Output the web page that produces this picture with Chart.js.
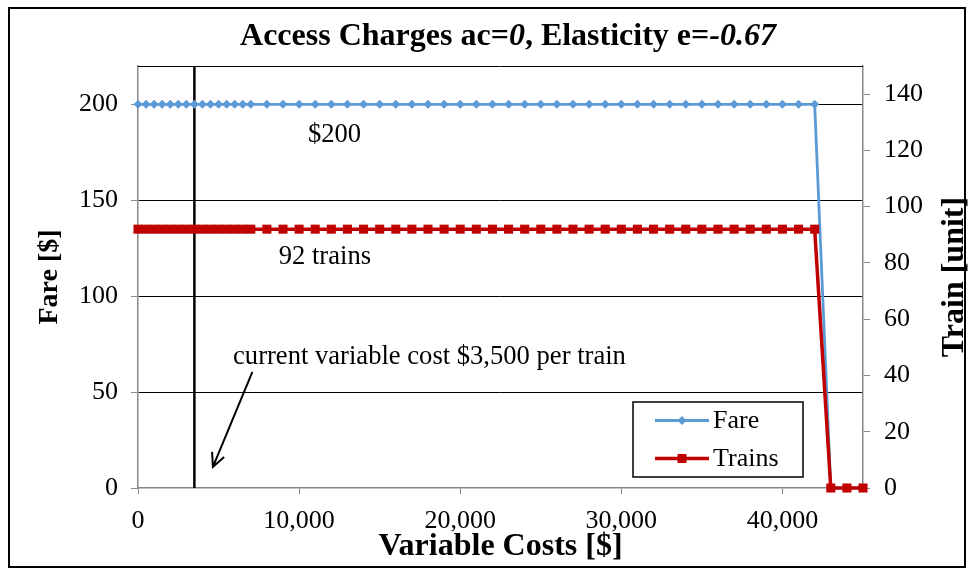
<!DOCTYPE html>
<html lang="en">
<head>
    <meta charset="UTF-8">
    <title>Access Charges ac=0, Elasticity e=-0.67</title>
    <script src="https://cdn.jsdelivr.net/npm/chart.js"></script>
    <style>
        html, body { margin: 0; padding: 0; background: #fff; }
        .chart-wrapper { width: 973px; height: 568px; }
    </style>
</head>
<body>
    <div class="chart-wrapper">
        <canvas id="fareChart" width="973" height="568"></canvas>
    </div>

    <script>
        // variable cost per train [$]
        const variableCosts = [
            0, 500, 1000, 1500, 2000, 2500, 3000, 3500, 4000, 4500, 5000, 5500, 6000, 6500, 7000,
            8000, 9000, 10000, 11000, 12000, 13000, 14000, 15000, 16000, 17000, 18000, 19000, 20000,
            21000, 22000, 23000, 24000, 25000, 26000, 27000, 28000, 29000, 30000, 31000, 32000,
            33000, 34000, 35000, 36000, 37000, 38000, 39000, 40000, 41000, 42000,
            43000, 44000, 45000
        ];

        // fare [$]
        const fareValues = [
            200, 200, 200, 200, 200, 200, 200, 200, 200, 200, 200, 200, 200, 200, 200,
            200, 200, 200, 200, 200, 200, 200, 200, 200, 200, 200, 200, 200,
            200, 200, 200, 200, 200, 200, 200, 200, 200, 200, 200, 200,
            200, 200, 200, 200, 200, 200, 200, 200, 200, 200,
            0, 0, 0
        ];

        // trains [unit]
        const trainValues = [
            92, 92, 92, 92, 92, 92, 92, 92, 92, 92, 92, 92, 92, 92, 92,
            92, 92, 92, 92, 92, 92, 92, 92, 92, 92, 92, 92, 92,
            92, 92, 92, 92, 92, 92, 92, 92, 92, 92, 92, 92,
            92, 92, 92, 92, 92, 92, 92, 92, 92, 92,
            0, 0, 0
        ];

        // axis ticks
        const xTicks = [0, 10000, 20000, 30000, 40000];
        const fareTicks = [0, 50, 100, 150, 200];
        const trainTicks = [0, 20, 40, 60, 80, 100, 120, 140];

        const currentCost = 3500;

        // text notes, placed in data units (x cost, y fare)
        const notes = [
            { text: '$200', x: 12200, y: 184, align: 'center' },
            { text: '92 trains', x: 11600, y: 120.5, align: 'center' },
            { text: 'current variable cost $3,500 per train', x: 5900, y: 68.5, align: 'left' }
        ];
        const arrowFrom = { x: 7100, y: 60.5 };
        const arrowTo = { x: 4650, y: 11 };

        const serif = "'Liberation Serif', 'Times New Roman', serif";
        Chart.defaults.font.family = serif;
        Chart.defaults.color = '#000';

        const toPoints = values => variableCosts.map((x, i) => ({ x: x, y: values[i] }));
        const fixedTicks = list => scale => { scale.ticks = list.map(v => ({ value: v })); };

        const decorations = {
            id: 'decorations',
            beforeDraw(chart) {
                const c = chart.ctx;
                c.save();
                c.fillStyle = '#fff';
                c.fillRect(0, 0, chart.width, chart.height);
                c.strokeStyle = '#000';
                c.lineWidth = 2;
                c.strokeRect(9, 8, 956, 559);
                c.restore();
            },
            beforeDatasetsDraw(chart) {
                const c = chart.ctx;
                const area = chart.chartArea;
                const xs = chart.scales.x;
                c.save();
                // plot top edge
                c.strokeStyle = '#000';
                c.lineWidth = 1;
                c.beginPath();
                c.moveTo(area.left, area.top + 0.5);
                c.lineTo(area.right, area.top + 0.5);
                c.stroke();
                // current variable cost marker
                const cx = xs.getPixelForValue(currentCost);
                c.lineWidth = 2.5;
                c.beginPath();
                c.moveTo(cx, area.top);
                c.lineTo(cx, area.bottom);
                c.stroke();
                c.restore();
            },
            afterDraw(chart) {
                const c = chart.ctx;
                const xs = chart.scales.x;
                const ys = chart.scales.y;
                const area = chart.chartArea;
                c.save();
                c.fillStyle = '#000';

                // title with italic values
                const parts = [
                    { t: 'Access Charges ac=', f: 'bold 32px ' + serif },
                    { t: '0', f: 'italic bold 32px ' + serif },
                    { t: ', Elasticity e=', f: 'bold 32px ' + serif },
                    { t: '-0.67', f: 'italic bold 32px ' + serif }
                ];
                let total = 0;
                parts.forEach(p => { c.font = p.f; p.w = c.measureText(p.t).width; total += p.w; });
                let tx = 508 - total / 2;
                c.textBaseline = 'middle';
                c.textAlign = 'left';
                parts.forEach(p => { c.font = p.f; c.fillText(p.t, tx, 37); tx += p.w; });

                // right axis title, reading upwards
                c.font = 'bold 32px ' + serif;
                c.textAlign = 'center';
                c.translate(955, (area.top + area.bottom) / 2);
                c.rotate(-Math.PI / 2);
                c.fillText('Train [unit]', 0, 0);
                c.setTransform(1, 0, 0, 1, 0, 0);

                // notes
                c.font = '26.6px ' + serif;
                notes.forEach(n => {
                    c.textAlign = n.align;
                    c.fillText(n.text, xs.getPixelForValue(n.x), ys.getPixelForValue(n.y));
                });

                // arrow
                const x1 = xs.getPixelForValue(arrowFrom.x), y1 = ys.getPixelForValue(arrowFrom.y);
                const x2 = xs.getPixelForValue(arrowTo.x), y2 = ys.getPixelForValue(arrowTo.y);
                const ang = Math.atan2(y2 - y1, x2 - x1);
                c.strokeStyle = '#000';
                c.lineWidth = 2;
                c.beginPath();
                c.moveTo(x1, y1);
                c.lineTo(x2, y2);
                c.moveTo(x2 - 15 * Math.cos(ang - 0.45), y2 - 15 * Math.sin(ang - 0.45));
                c.lineTo(x2, y2);
                c.lineTo(x2 - 15 * Math.cos(ang + 0.45), y2 - 15 * Math.sin(ang + 0.45));
                c.stroke();

                // legend box
                const lx = 633, ly = 402, lw = 170, lh = 75;
                c.fillStyle = '#fff';
                c.fillRect(lx, ly, lw, lh);
                c.strokeStyle = '#000';
                c.lineWidth = 1.5;
                c.strokeRect(lx, ly, lw, lh);
                const rows = [chart.data.datasets[0], chart.data.datasets[1]];
                rows.forEach((ds, i) => {
                    const yy = ly + 18.5 + i * 38;
                    c.strokeStyle = ds.borderColor;
                    c.lineWidth = ds.borderWidth;
                    c.beginPath();
                    c.moveTo(lx + 22, yy);
                    c.lineTo(lx + 76, yy);
                    c.stroke();
                    c.fillStyle = ds.borderColor;
                    c.beginPath();
                    if (ds.pointStyle === 'rect') {
                        c.rect(lx + 49 - 4.5, yy - 4.5, 9, 9);
                    } else {
                        c.moveTo(lx + 49, yy - 4.5);
                        c.lineTo(lx + 53.5, yy);
                        c.lineTo(lx + 49, yy + 4.5);
                        c.lineTo(lx + 44.5, yy);
                        c.closePath();
                    }
                    c.fill();
                    c.fillStyle = '#000';
                    c.font = '26px ' + serif;
                    c.textAlign = 'left';
                    c.fillText(ds.label, lx + 80, yy + 1);
                });
                c.restore();
            }
        };

        const ctx = document.getElementById('fareChart').getContext('2d');
        new Chart(ctx, {
            type: 'line',
            data: {
                datasets: [
                    {
                        label: 'Fare',
                        data: toPoints(fareValues),
                        yAxisID: 'y',
                        borderColor: '#5B9BD5',
                        backgroundColor: '#5B9BD5',
                        borderWidth: 2.8,
                        pointStyle: 'rectRot',
                        pointRadius: 4.5,
                        pointBorderWidth: 0,
                        tension: 0,
                        clip: false,
                        order: 1
                    },
                    {
                        label: 'Trains',
                        data: toPoints(trainValues),
                        yAxisID: 'y2',
                        borderColor: '#C00000',
                        backgroundColor: '#C00000',
                        borderWidth: 3.5,
                        pointStyle: 'rect',
                        pointRadius: 6.4,
                        pointBorderWidth: 0,
                        tension: 0,
                        clip: false,
                        order: 0
                    }
                ]
            },
            options: {
                responsive: false,
                animation: false,
                devicePixelRatio: 1,
                layout: { padding: { top: 66, left: 0, right: 0, bottom: 0 } },
                plugins: {
                    legend: { display: false },
                    tooltip: { enabled: false }
                },
                scales: {
                    x: {
                        type: 'linear',
                        min: 0,
                        max: 45000,
                        afterFit: s => { s.height = 80; },
                        afterBuildTicks: fixedTicks(xTicks),
                        ticks: { autoSkip: false, maxRotation: 0, font: { size: 26 }, padding: 12 },
                        grid: { drawOnChartArea: false, tickLength: 6, tickColor: '#888' },
                        border: { color: '#888', width: 1.5 },
                        title: {
                            display: true,
                            text: 'Variable Costs [$]',
                            font: { size: 32, weight: 'bold' },
                            padding: { top: 0, bottom: 2 }
                        }
                    },
                    y: {
                        position: 'left',
                        min: 0,
                        max: 220,
                        afterFit: s => { s.width = 138; },
                        afterBuildTicks: fixedTicks(fareTicks),
                        ticks: { font: { size: 26 }, padding: 13 },
                        grid: {
                            color: c => (c.tick && c.tick.value === 0) ? 'rgba(0,0,0,0)' : '#000',
                            lineWidth: 1,
                            tickLength: 7,
                            tickColor: '#888'
                        },
                        border: { color: '#888', width: 1.5 },
                        title: {
                            display: true,
                            text: 'Fare [$]',
                            font: { size: 28, weight: 'bold' },
                            padding: { top: 33, bottom: 0 }
                        }
                    },
                    y2: {
                        position: 'right',
                        min: 0,
                        max: 150,
                        afterFit: s => { s.width = 110; },
                        afterBuildTicks: fixedTicks(trainTicks),
                        ticks: { font: { size: 26 }, padding: 14 },
                        grid: { drawOnChartArea: false, tickLength: 7, tickColor: '#888' },
                        border: { color: '#888', width: 1.5 }
                    }
                }
            },
            plugins: [decorations]
        });
    </script>
</body>
</html>
